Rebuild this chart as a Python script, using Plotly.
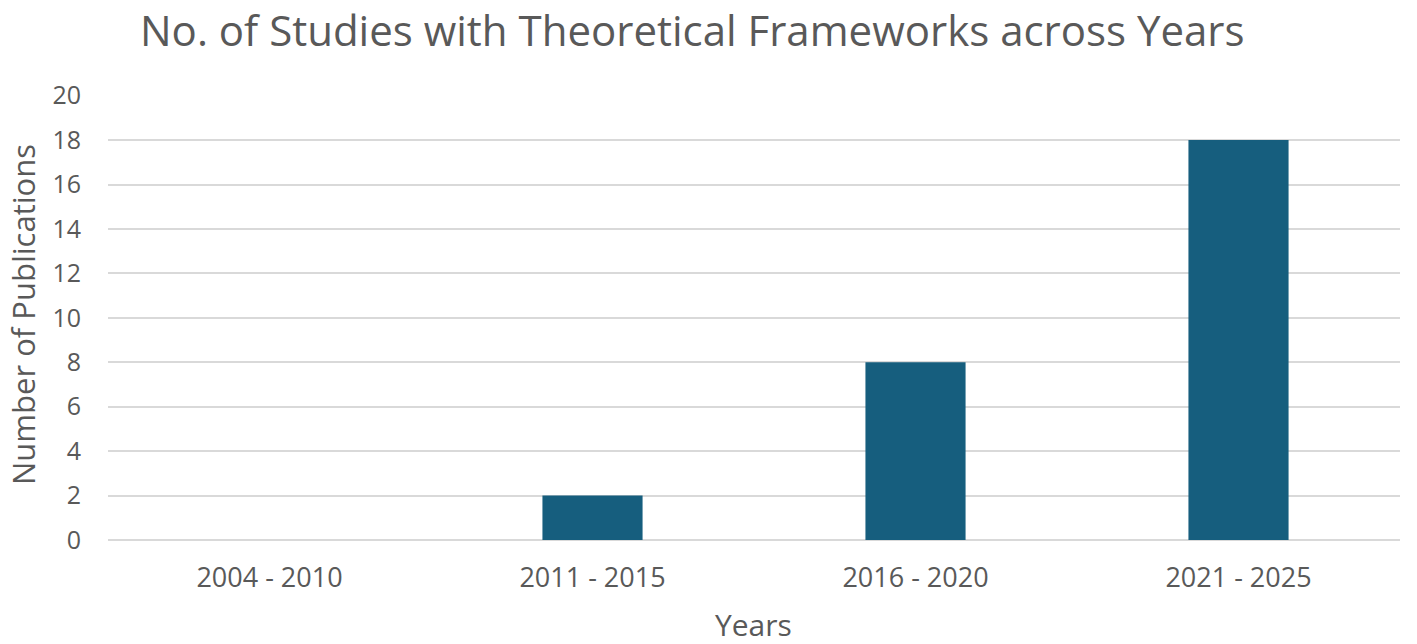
import plotly.graph_objects as go

categories = ["2004 - 2010", "2011 - 2015", "2016 - 2020", "2021 - 2025"]
publications = [0, 2, 8, 18]
y_ticks = [0, 2, 4, 6, 8, 10, 12, 14, 16, 18, 20]

BAR = "#165E7E"
TEXT = "#595959"
GRID = "#D9D9D9"
FONT = "Open Sans"

W, H = 1417, 644

fig = go.Figure()
fig.add_trace(go.Bar(
    x=categories,
    y=publications,
    marker=dict(color=BAR, line=dict(width=0)),
))

fig.update_layout(
    title=dict(
        text="No. of Studies with Theoretical Frameworks across Years",
        x=140 / W, xanchor="left",
        y=1 - 31 / H, yanchor="middle",
        font=dict(family=FONT, size=42, color=TEXT),
    ),
    font=dict(family=FONT, color=TEXT),
    paper_bgcolor="white",
    plot_bgcolor="white",
    bargap=0.69,
    showlegend=False,
    width=W,
    height=H,
    margin=dict(t=95, b=104, l=108, r=17),
    xaxis=dict(
        tickfont=dict(size=27, color=TEXT),
        showgrid=False,
        showline=False,
        ticks="",
        automargin=False,
        ticklabelstandoff=19,
    ),
    yaxis=dict(
        range=[0, 20.03],
        tickvals=y_ticks,
        tickfont=dict(size=25, color=TEXT),
        gridcolor=GRID,
        gridwidth=1.5,
        zeroline=True,
        zerolinecolor=GRID,
        zerolinewidth=1.5,
        ticks="",
        automargin=False,
        ticklabelstandoff=26,
    ),
    annotations=[
        dict(text="Years", xref="paper", yref="paper",
             x=(753 - 108) / 1292, y=-(624 - 540) / 445,
             xanchor="center", yanchor="middle", showarrow=False,
             font=dict(size=30, color=TEXT)),
        dict(text="Number of Publications", xref="paper", yref="paper",
             x=-(108 - 23) / 1292, y=(540 - 315) / 445, textangle=-90,
             xanchor="center", yanchor="middle", showarrow=False,
             font=dict(size=31, color=TEXT)),
    ],
)

# drop the default body margin so the figure sits at the window's corner
fig.write_html(
    "out.html",
    config={"displayModeBar": False},
    post_script="document.body.style.margin = '0';",
)
